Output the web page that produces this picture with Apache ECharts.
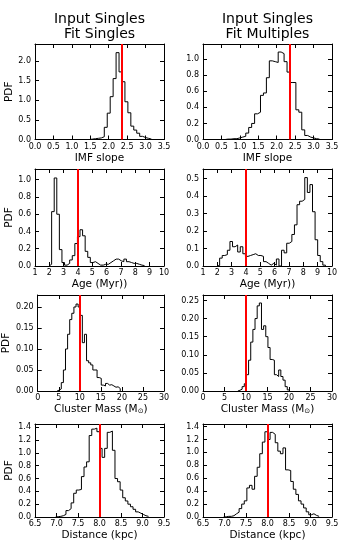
<!DOCTYPE html>
<html>
<head>
<meta charset="utf-8">
<script src="https://cdn.jsdelivr.net/npm/echarts@6/dist/echarts.min.js"></script>
<style>
  html, body { margin: 0; padding: 0; background: #fff; }
  #chart { width: 350px; height: 550px; }
</style>
</head>
<body>
<div id="chart"></div>
<script>
// histogram bin heights (PDF); bins have equal width starting at the given edge
const imfSinglesStart = 1.48, imfSinglesWidth = 0.08
const imfSingles = [0.01, 0.02, 0.03, 0.04, 0.07, 0.31, 0.67, 1.09, 1.55, 2.21, 1.72, 1.47, 0.96, 0.68, 0.34, 0.24, 0.16, 0.08, 0.05, 0.03, 0.01]

const imfMultiplesStart = 0.60, imfMultiplesWidth = 0.08
const imfMultiples = [0.005, 0.005, 0.01, 0.01, 0.02, 0.03, 0.04, 0.08, 0.15, 0.2, 0.32, 0.34, 0.55, 0.58, 0.77, 0.98, 0.97, 0.96, 1.09, 1.07, 0.97, 0.84, 0.71, 0.71, 0.37, 0.34, 0.12, 0.05, 0.03, 0.02, 0.01, 0.005]

const ageSinglesStart = 1.98, ageSinglesWidth = 0.18
const ageSingles = [0.02, 0.63, 1.02, 0.60, 0.19, 0.04, 0.01, 0.03, 0.07, 0.12, 0.26, 0.34, 0.42, 0.35, 0.17, 0.10, 0.04, 0.05, 0.03, 0.01, 0.01, 0.02, 0.02, 0.04, 0.06, 0.08, 0.08, 0.06, 0.05, 0.08, 0.05, 0.04, 0.03, 0.03, 0.02, 0.01, 0.005]

const ageMultiplesStart = 1.98, ageMultiplesWidth = 0.18
const ageMultiples = [0.003, 0.045, 0.06, 0.065, 0.09, 0.14, 0.11, 0.12, 0.08, 0.11, 0.07, 0.055, 0.06, 0.065, 0.07, 0.06, 0.06, 0.055, 0.025, 0.015, 0.005, 0.015, 0.005, 0.04, 0, 0.09, 0.075, 0.13, 0.14, 0.18, 0.235, 0.35, 0.37, 0.38, 0.505, 0.42, 0.465, 0.31, 0.15, 0.06, 0.025, 0.005]

const massSinglesStart = 4.6, massSinglesWidth = 0.5
const massSingles = [0.002, 0.005, 0.02, 0.05, 0.1, 0.135, 0.17, 0.185, 0.2, 0.207, 0.2, 0.18, 0.115, 0.135, 0.072, 0.067, 0.062, 0.05, 0.05, 0.032, 0.03, 0.014, 0.012, 0.018, 0.014, 0.015, 0.012, 0.009, 0.01, 0.006]

const massMultiplesStart = 8.1, massMultiplesWidth = 0.5
const massMultiples = [0.002, 0.005, 0.012, 0.02, 0.045, 0.085, 0.135, 0.17, 0.2, 0.235, 0.243, 0.17, 0.18, 0.15, 0.12, 0.087, 0.085, 0.045, 0.04, 0.058, 0.04, 0.03, 0.012, 0.003]

const distSinglesStart = 6.98, distSinglesWidth = 0.06
const distSingles = [0.005, 0.01, 0.02, 0.04, 0.1, 0.13, 0.22, 0.37, 0.42, 0.43, 0.63, 0.78, 0.86, 1.27, 1.37, 1.385, 1.33, 1.07, 0.93, 1.07, 1.32, 1.34, 1.04, 0.6, 0.55, 0.42, 0.3, 0.25, 0.2, 0.16, 0.12, 0.08, 0.06, 0.04, 0.02, 0.01]

const distMultiplesStart = 6.98, distMultiplesWidth = 0.06
const distMultiples = [0.003, 0.01, 0.01, 0.02, 0.05, 0.075, 0.13, 0.2, 0.25, 0.45, 0.49, 0.43, 0.63, 0.77, 0.98, 1.16, 1.32, 1.2, 1.31, 1.28, 1.15, 1.02, 0.98, 1.07, 0.73, 0.72, 0.55, 0.43, 0.35, 0.25, 0.2, 0.14, 0.08, 0.035, 0.05, 0.025, 0.01]

// true (input) values, drawn as red lines
const trueImf = 2.35
const trueAge = 4.0
const trueMass = 10
const trueDist = 8.0

const FONT = 'DejaVu Sans'

const panels = [
  { start: imfSinglesStart, width: imfSinglesWidth, heights: imfSingles, truth: trueImf, xMin: 0, xMax: 3.5, xStep: 0.5, xDec: 1, yMax: 2.43, yStep: 0.5, yDec: 1, xName: 'IMF slope' },
  { start: imfMultiplesStart, width: imfMultiplesWidth, heights: imfMultiples, truth: trueImf, xMin: 0, xMax: 3.5, xStep: 0.5, xDec: 1, yMax: 1.19, yStep: 0.2, yDec: 1, xName: 'IMF slope' },
  { start: ageSinglesStart, width: ageSinglesWidth, heights: ageSingles, truth: trueAge, xMin: 1, xMax: 10, xStep: 1, xDec: 0, yMax: 1.124, yStep: 0.2, yDec: 1, xName: 'Age (Myr))' },
  { start: ageMultiplesStart, width: ageMultiplesWidth, heights: ageMultiples, truth: trueAge, xMin: 1, xMax: 10, xStep: 1, xDec: 0, yMax: 0.554, yStep: 0.1, yDec: 1, xName: 'Age (Myr))' },
  { start: massSinglesStart, width: massSinglesWidth, heights: massSingles, truth: trueMass, xMin: 0, xMax: 30, xStep: 5, xDec: 0, yMax: 0.2285, yStep: 0.05, yDec: 2, xName: 'Cluster Mass (M{sub|⊙})' },
  { start: massMultiplesStart, width: massMultiplesWidth, heights: massMultiples, truth: trueMass, xMin: 0, xMax: 30, xStep: 5, xDec: 0, yMax: 0.265, yStep: 0.05, yDec: 2, xName: 'Cluster Mass (M{sub|⊙})' },
  { start: distSinglesStart, width: distSinglesWidth, heights: distSingles, truth: trueDist, xMin: 6.5, xMax: 9.5, xStep: 0.5, xDec: 1, yMax: 1.45, yStep: 0.2, yDec: 1, xName: 'Distance (kpc)' },
  { start: distMultiplesStart, width: distMultiplesWidth, heights: distMultiples, truth: trueDist, xMin: 6.5, xMax: 9.5, xStep: 0.5, xDec: 1, yMax: 1.44, yStep: 0.2, yDec: 1, xName: 'Distance (kpc)' },
]

const colLeft = [35, 203]
const rowTop = [44, 169, 295, 424]
const rowHeight = [95.5, 97, 96, 93]

function histPoints(p) {
  const pts = [[p.start, 0]]
  p.heights.forEach((h, i) => {
    pts.push([p.start + i * p.width, h])
    pts.push([p.start + (i + 1) * p.width, h])
  })
  pts.push([p.start + p.heights.length * p.width, 0])
  return pts
}

const axisLine = { show: true, onZero: false, lineStyle: { color: '#000', width: 1 } }
const axisTick = { show: true, inside: true, length: 4, lineStyle: { color: '#000', width: 1 } }
const nameStyle = {
  color: '#000', fontSize: 10.5, fontFamily: FONT,
  rich: { sub: { fontSize: 7, fontFamily: FONT, color: '#000', verticalAlign: 'bottom' } }
}

const grids = [], xAxes = [], yAxes = [], series = []

panels.forEach((p, i) => {
  const col = i % 2, row = Math.floor(i / 2)
  grids.push({ left: colLeft[col], top: rowTop[row], width: 129, height: rowHeight[row] })

  const xBase = { type: 'value', gridIndex: i, min: p.xMin, max: p.xMax, interval: p.xStep, axisLine, axisTick, splitLine: { show: false } }
  xAxes.push(Object.assign({}, xBase, {
    position: 'bottom',
    axisLabel: { margin: 3, color: '#000', fontSize: 8, fontFamily: FONT, formatter: v => v.toFixed(p.xDec) },
    name: p.xName, nameLocation: 'middle', nameGap: 13, nameTextStyle: nameStyle
  }))
  xAxes.push(Object.assign({}, xBase, { position: 'top', axisLabel: { show: false } }))

  const yBase = { type: 'value', gridIndex: i, min: 0, max: p.yMax, interval: p.yStep, axisLine, axisTick, splitLine: { show: false } }
  yAxes.push(Object.assign({}, yBase, {
    position: 'left',
    axisLabel: { margin: 4, color: '#000', fontSize: 8, fontFamily: FONT, showMaxLabel: false, formatter: v => v.toFixed(p.yDec) },
    name: col === 0 ? 'PDF' : '', nameLocation: 'middle', nameGap: 15, nameTextStyle: nameStyle
  }))
  yAxes.push(Object.assign({}, yBase, { position: 'right', axisLabel: { show: false } }))

  series.push({
    type: 'line',
    xAxisIndex: 2 * i,
    yAxisIndex: 2 * i,
    data: histPoints(p),
    symbol: 'none',
    silent: true,
    lineStyle: { color: '#000', width: 1 },
    markLine: {
      silent: true,
      symbol: ['none', 'none'],
      label: { show: false },
      lineStyle: { color: '#ff0000', width: 2, type: 'solid' },
      data: [{ xAxis: p.truth }]
    }
  })
})

const chart = echarts.init(document.getElementById('chart'))
chart.setOption({
  animation: false,
  backgroundColor: '#fff',
  grid: grids,
  xAxis: xAxes,
  yAxis: yAxes,
  series: series,
  graphic: [
    { type: 'text', x: 99.5, y: 12, style: { text: 'Input Singles\nFit Singles', align: 'center', verticalAlign: 'top', fontSize: 14, lineHeight: 15, fontFamily: FONT, fill: '#000' } },
    { type: 'text', x: 267.5, y: 12, style: { text: 'Input Singles\nFit Multiples', align: 'center', verticalAlign: 'top', fontSize: 14, lineHeight: 15, fontFamily: FONT, fill: '#000' } }
  ]
})
</script>
</body>
</html>
